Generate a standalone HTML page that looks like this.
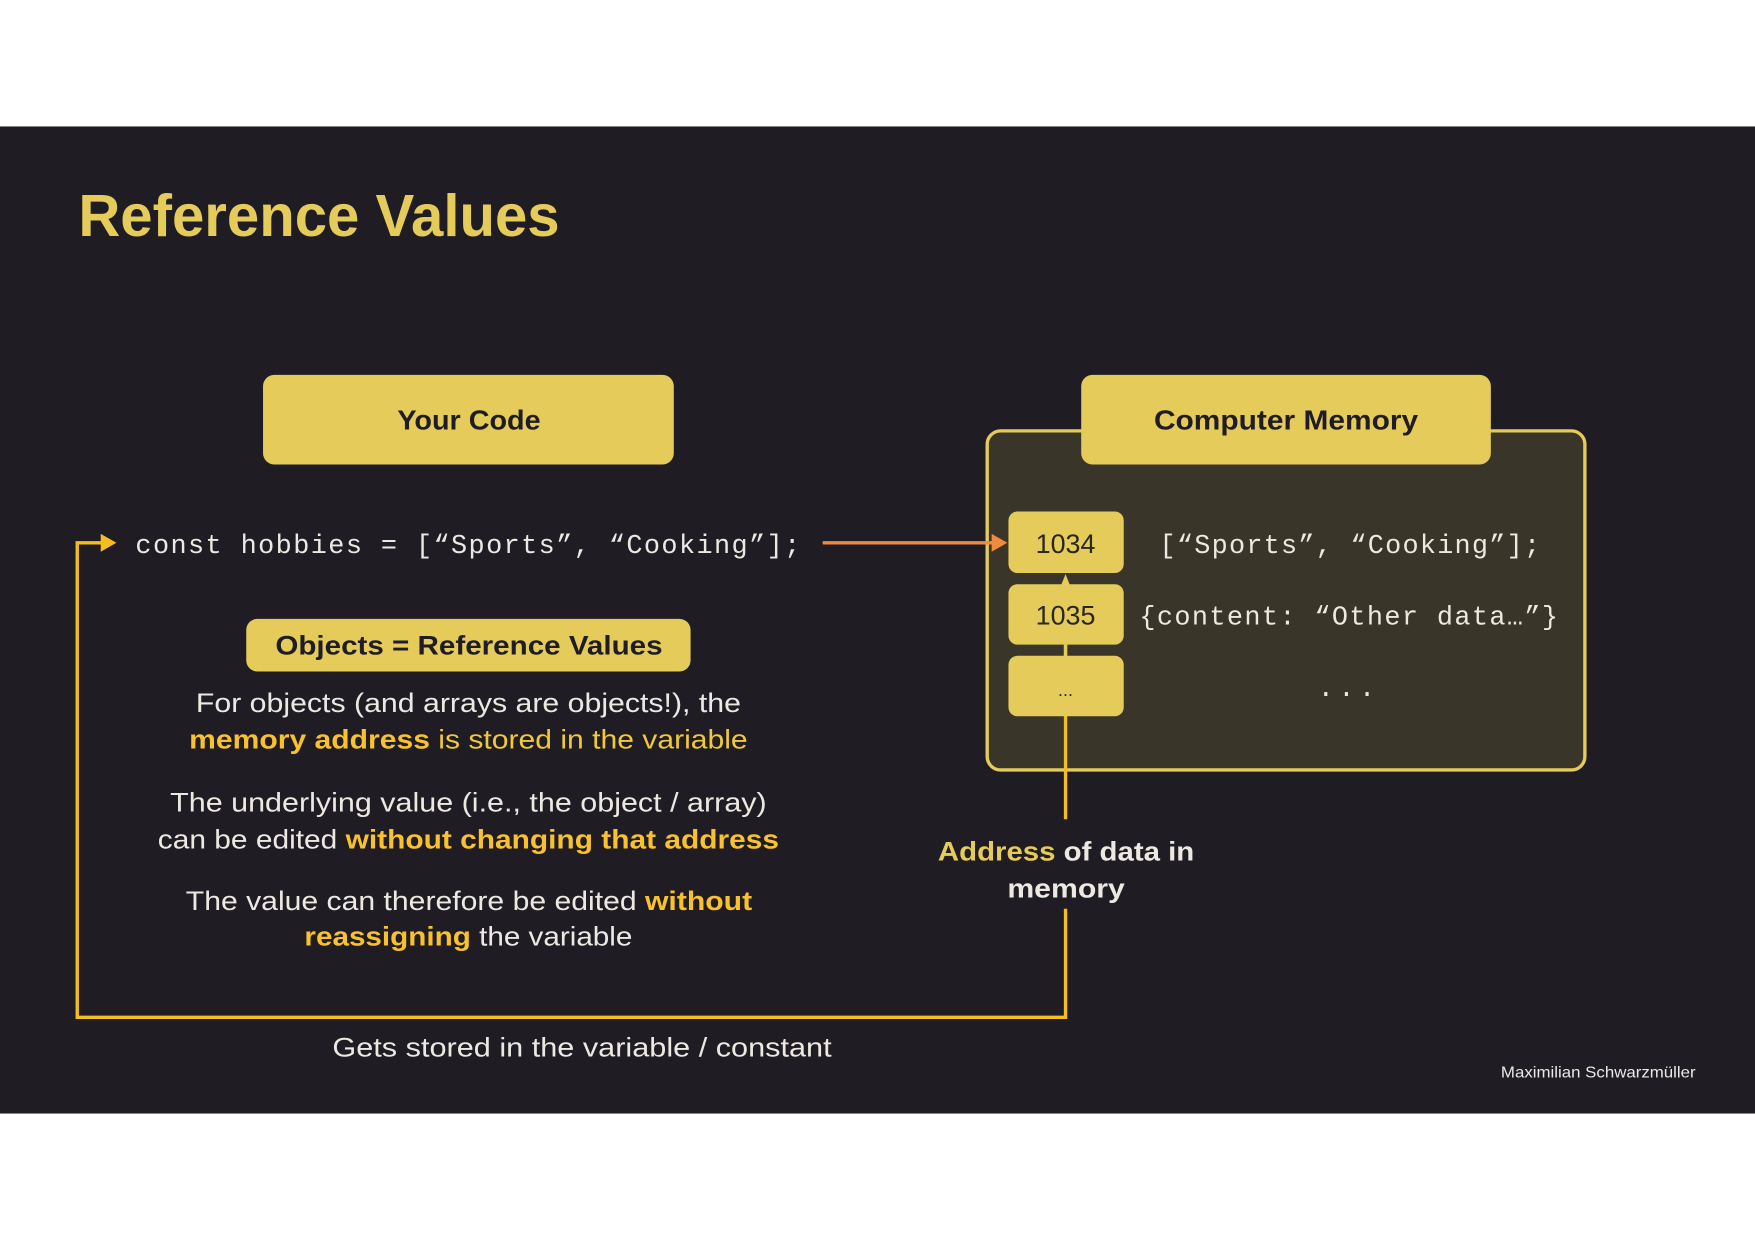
<!DOCTYPE html>
<html><head><meta charset="utf-8"><style>
html,body{margin:0;padding:0;background:#fff;}
svg{display:block;}
.q{font-family:"Liberation Sans",sans-serif;}
.m{font-family:"Liberation Mono",monospace;}
</style></head><body>
<svg width="1755" height="1240" viewBox="0 0 1568 1108" preserveAspectRatio="none" xmlns="http://www.w3.org/2000/svg">
<rect x="0" y="0" width="1568" height="1108" fill="#fff"/>
<rect x="0" y="113" width="1568" height="882" fill="#1f1d23"/>
<text x="70" y="211" class="q" font-size="53" font-weight="bold" fill="#e5cb5a" textLength="430" lengthAdjust="spacingAndGlyphs">Reference Values</text>

<rect x="235" y="335" width="367" height="80" rx="10" fill="#e5cb5a"/>
<text x="355" y="384" class="q" font-size="25" font-weight="bold" fill="#1f1d23" textLength="128" lengthAdjust="spacingAndGlyphs">Your Code</text>

<rect x="882" y="385" width="534" height="303" rx="12" fill="#3a3529" stroke="#e5cb5a" stroke-width="3"/>
<rect x="966" y="335" width="366" height="80" rx="10" fill="#e5cb5a"/>
<text x="1031" y="384" class="q" font-size="25" font-weight="bold" fill="#1f1d23" textLength="236" lengthAdjust="spacingAndGlyphs">Computer Memory</text>

<g stroke="#f6bd1e" stroke-width="3" fill="none">
<line x1="952" y1="576" x2="952" y2="732"/>
<polyline points="952,812 952,909 69,909 69,485 92,485"/>
</g>
<polygon points="90,477 104,485 90,493" fill="#f6bd1e"/>

<rect x="901" y="457" width="103" height="55" rx="8" fill="#e5cb5a"/>
<rect x="901" y="522" width="103" height="54" rx="8" fill="#e5cb5a"/>
<rect x="901" y="586" width="103" height="54" rx="8" fill="#e5cb5a"/>
<polygon points="948,523 952,513 956,523" fill="#e5cb5a"/>
<line x1="952" y1="576" x2="952" y2="586" stroke="#e5cb5a" stroke-width="3"/>
<text x="952" y="494" class="q" font-size="24" fill="#2a2620" text-anchor="middle">1034</text>
<text x="952" y="558" class="q" font-size="24" fill="#2a2620" text-anchor="middle">1035</text>
<text x="952" y="622" class="q" font-size="16" fill="#2a2620" text-anchor="middle">...</text>

<text x="1036" y="494" class="m" font-size="24" fill="#ece9e2" textLength="340" lengthAdjust="spacing">[“Sports”, “Cooking”];</text>
<text x="1018" y="558" class="m" font-size="24" fill="#ece9e2" textLength="374" lengthAdjust="spacing">{content: “Other data…”}</text>
<text x="1205" y="622" class="m" font-size="24" fill="#ece9e2" text-anchor="middle" letter-spacing="4">...</text>

<text x="121" y="494" class="m" font-size="24" fill="#ece9e2" textLength="594" lengthAdjust="spacing">const hobbies = [“Sports”, “Cooking”];</text>
<line x1="735" y1="485" x2="888" y2="485" stroke="#f08a3c" stroke-width="3"/>
<polygon points="886,477 900,485 886,493" fill="#f08a3c"/>

<rect x="220" y="553" width="397" height="47" rx="10" fill="#e5cb5a"/>
<text x="246" y="585" class="q" font-size="24" font-weight="bold" fill="#1f1d23" textLength="346" lengthAdjust="spacingAndGlyphs">Objects = Reference Values</text>

<g class="q" font-size="24" fill="#ece9e2">
<text x="175" y="636" textLength="487" lengthAdjust="spacingAndGlyphs">For objects (and arrays are objects!), the</text>
<text x="169" y="669" fill="#f0c83a" textLength="499" lengthAdjust="spacingAndGlyphs"><tspan font-weight="bold" fill="#f8c12d">memory address</tspan> is stored in the variable</text>
<text x="152" y="725" textLength="533" lengthAdjust="spacingAndGlyphs">The underlying value (i.e., the object / array)</text>
<text x="141" y="758" textLength="555" lengthAdjust="spacingAndGlyphs">can be edited <tspan font-weight="bold" fill="#f8c12d">without changing that address</tspan></text>
<text x="166" y="813" textLength="506" lengthAdjust="spacingAndGlyphs">The value can therefore be edited <tspan font-weight="bold" fill="#f8c12d">without</tspan></text>
<text x="272" y="845" textLength="293" lengthAdjust="spacingAndGlyphs"><tspan font-weight="bold" fill="#f8c12d">reassigning</tspan> the variable</text>
<text x="297" y="944" textLength="446" lengthAdjust="spacingAndGlyphs">Gets stored in the variable / constant</text>
</g>

<g class="q" font-size="24" font-weight="bold" fill="#ece9e2">
<text x="838" y="769" textLength="229" lengthAdjust="spacingAndGlyphs"><tspan fill="#e5cb5a">Address</tspan> of data in</text>
<text x="900" y="802" textLength="105" lengthAdjust="spacingAndGlyphs">memory</text>
</g>

<text x="1341" y="963" class="q" font-size="14" fill="#ece9e2" textLength="174" lengthAdjust="spacingAndGlyphs">Maximilian Schwarzmüller</text>
</svg>
</body></html>
